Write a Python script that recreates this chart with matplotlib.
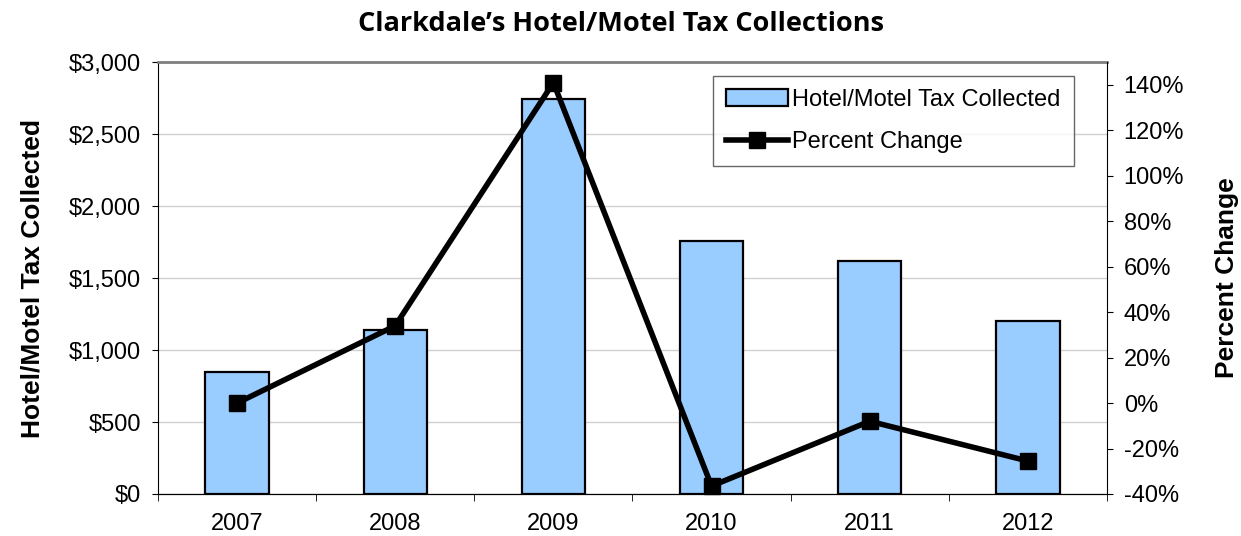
import matplotlib.pyplot as plt
import numpy as np
from matplotlib.ticker import FuncFormatter, MultipleLocator

years = ['2007', '2008', '2009', '2010', '2011', '2012']
tax_collected = [850, 1140, 2745, 1755, 1620, 1205]
pct_change = [0.0, 34.0, 141.0, -36.5, -8.0, -25.5]

plt.rcParams['font.family'] = ['Liberation Sans', 'DejaVu Sans']

fig = plt.figure(figsize=(12.41, 5.36), dpi=100)
ax = fig.add_axes([0.1273, 0.0784, 0.7647, 0.8056])
x = np.arange(len(years))

bars = ax.bar(x, tax_collected, width=0.4, color='#99ccff', edgecolor='black',
              linewidth=1.6, label='Hotel/Motel Tax Collected', zorder=2)
ax.set_xlim(-0.5, len(years) - 0.5)
ax.set_ylim(0, 3000)
ax.yaxis.set_major_locator(MultipleLocator(500))
ax.yaxis.set_major_formatter(FuncFormatter(lambda v, p: f"${v:,.0f}"))
ax.grid(axis='y', color='#d0d0d0', lw=1, zorder=0)
ax.set_axisbelow(True)
ax.set_xticks(x)
ax.set_xticklabels(years)
ax.set_xticks(np.arange(-0.5, len(years), 1), minor=True)
ax.tick_params(axis='x', which='major', length=0, pad=14, labelsize=17)
ax.tick_params(axis='x', which='minor', length=5, direction='out')
ax.tick_params(axis='y', labelsize=17, length=4, pad=8)
ax.set_ylabel('Hotel/Motel Tax Collected', fontsize=19, fontweight='bold', labelpad=18)
ax.spines['top'].set_color('#808080')
ax.spines['top'].set_linewidth(2)
ax.spines['right'].set_visible(False)

ax2 = ax.twinx()
line, = ax2.plot(x, pct_change, color='black', lw=4, marker='s', markersize=12,
                 label='Percent Change', clip_on=False, zorder=3)
ax2.set_ylim(-40, 150)
ax2.set_yticks(np.arange(-40, 141, 20))
ax2.yaxis.set_major_formatter(FuncFormatter(lambda v, p: f"{v:.0f}%"))
ax2.tick_params(axis='y', labelsize=17, length=4, pad=8)
ax2.set_ylabel('Percent Change', fontsize=19, fontweight='bold', labelpad=22)
ax2.spines['top'].set_visible(False)
ax2.spines['left'].set_visible(False)

leg = ax2.legend([bars, line], ['Hotel/Motel Tax Collected', 'Percent Change'],
                 loc='upper right', bbox_to_anchor=(0.965, 0.968), fontsize=17,
                 frameon=True, fancybox=False, edgecolor='#404040',
                 handlelength=2.6, handletextpad=0.2, borderpad=0.55, labelspacing=0.85,
                 borderaxespad=0)
leg.get_frame().set_linewidth(1)

fig.text(0.5, 0.955, 'Clarkdale\u2019s Hotel/Motel Tax Collections', ha='center', va='center',
         fontsize=19.5, fontweight='bold', family=['Open Sans', 'DejaVu Sans'])

plt.savefig('out.png', dpi=100)
plt.close()
